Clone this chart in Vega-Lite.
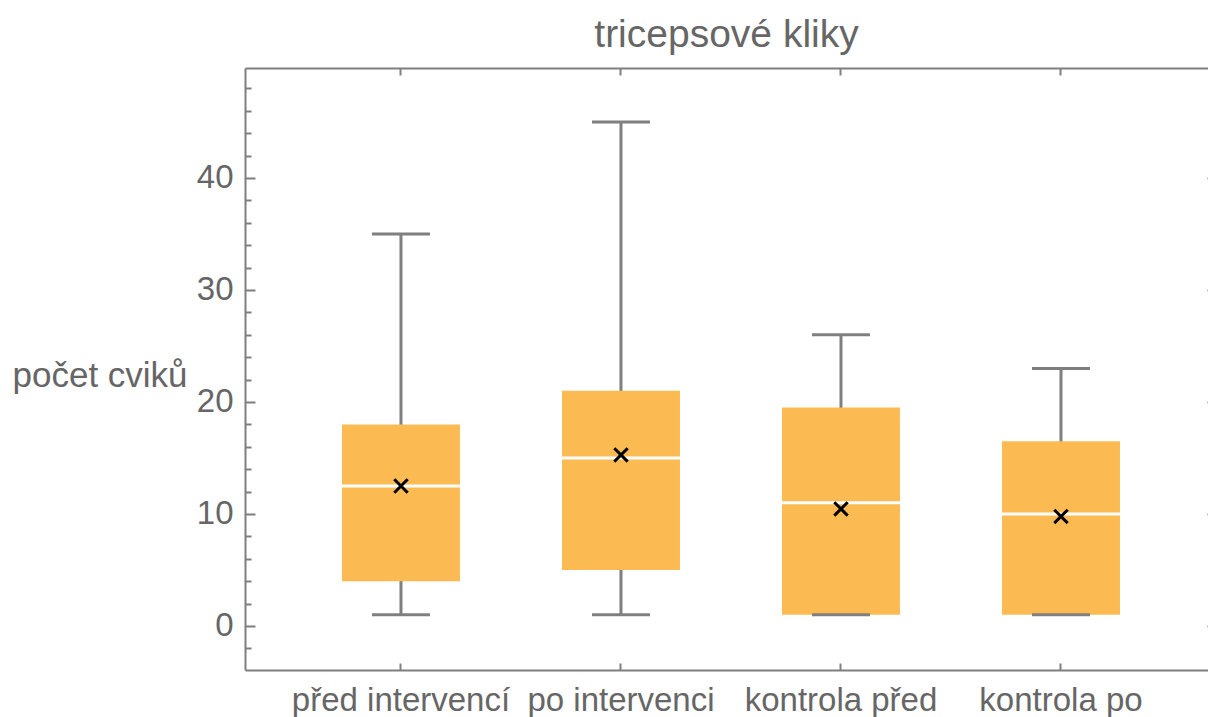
{
  "$schema": "https://vega.github.io/schema/vega-lite/v6.json",
  "autosize": "none",
  "padding": {"left": 245, "top": 68, "right": 0, "bottom": 47},
  "width": 963,
  "height": 602,
  "background": "white",
  "title": {
    "text": "tricepsové kliky",
    "font": "Liberation Sans",
    "fontSize": 39,
    "fontWeight": "normal",
    "color": "#666666",
    "anchor": "middle",
    "offset": 12
  },
  "config": {
    "view": {"stroke": null},
    "font": "Liberation Sans"
  },
  "data": {
    "values": [
      {"skupina": "před intervencí", "min": 1, "q1": 4, "median": 12.5, "q3": 18, "max": 35, "prumer": 12.5},
      {"skupina": "po intervenci", "min": 1, "q1": 5, "median": 15, "q3": 21, "max": 45, "prumer": 15.27},
      {"skupina": "kontrola před", "min": 1, "q1": 1, "median": 11, "q3": 19.5, "max": 26, "prumer": 10.45},
      {"skupina": "kontrola po", "min": 1, "q1": 1, "median": 10, "q3": 16.5, "max": 23, "prumer": 9.78}
    ]
  },
  "resolve": {"axis": {"x": "independent", "y": "independent"}},
  "layer": [
    {
      "mark": {"type": "rule", "color": "#7f7f7f", "strokeWidth": 3, "opacity": 1},
      "encoding": {
        "x": {
          "field": "skupina", "type": "nominal", "sort": null,
          "scale": {"type": "band", "paddingInner": 0, "paddingOuter": 0.1886, "align": 0.554},
          "axis": {
            "orient": "bottom", "title": null, "labelAngle": 0, "labelLimit": 0,
            "domainColor": "#7f7f7f", "domainWidth": 2,
            "tickColor": "#7f7f7f", "tickWidth": 2, "tickSize": -7,
            "labelFont": "Liberation Sans", "labelFontSize": 33, "labelColor": "#666666",
            "labelPadding": 21, "labelBaseline": "top"
          }
        },
        "y": {
          "field": "min", "type": "quantitative",
          "scale": {"domain": [-3.93, 49.82], "nice": false, "zero": false},
          "axis": {
            "orient": "left", "values": [0, 10, 20, 30, 40],
            "title": "počet cviků", "titleAngle": 0, "titleAlign": "left",
            "titleBaseline": "alphabetic", "titleX": -233, "titleY": 318,
            "titleFont": "Liberation Sans", "titleFontSize": 35, "titleFontWeight": "normal", "titleColor": "#666666",
            "domainColor": "#7f7f7f", "domainWidth": 2,
            "tickColor": "#7f7f7f", "tickWidth": 2, "tickSize": -10,
            "labelFont": "Liberation Sans", "labelFontSize": 33, "labelColor": "#666666",
            "labelPadding": 22, "grid": false
          }
        },
        "y2": {"field": "max"}
      }
    },
    {
      "mark": {"type": "tick", "color": "#7f7f7f", "size": 58, "thickness": 3, "opacity": 1},
      "encoding": {
        "x": {
          "field": "skupina", "type": "nominal", "sort": null,
          "axis": {
            "orient": "top", "title": null, "labels": false,
            "domainColor": "#7f7f7f", "domainWidth": 2,
            "tickColor": "#7f7f7f", "tickWidth": 2, "tickSize": -7
          }
        },
        "y": {
          "field": "max", "type": "quantitative",
          "axis": {
            "orient": "left", "title": null, "labels": false, "domain": false, "grid": false,
            "values": [-2, 2, 4, 6, 8, 12, 14, 16, 18, 22, 24, 26, 28, 32, 34, 36, 38, 42, 44, 46, 48],
            "tickColor": "#7f7f7f", "tickWidth": 2, "tickSize": -6
          }
        }
      }
    },
    {
      "mark": {"type": "bar", "color": "#FBBB52", "width": 118, "opacity": 1},
      "encoding": {
        "x": {"field": "skupina", "type": "nominal", "sort": null, "axis": null},
        "y": {
          "field": "q1", "type": "quantitative",
          "axis": {
            "orient": "right", "title": null, "labels": false, "grid": false, "offset": 9,
            "values": [0, 10, 20, 30, 40],
            "domainColor": "#7f7f7f", "domainWidth": 2,
            "tickColor": "#7f7f7f", "tickWidth": 2, "tickSize": -10
          }
        },
        "y2": {"field": "q3"}
      }
    },
    {
      "mark": {"type": "tick", "color": "#7f7f7f", "size": 58, "thickness": 3, "opacity": 1},
      "encoding": {
        "x": {"field": "skupina", "type": "nominal", "sort": null, "axis": null},
        "y": {"field": "min", "type": "quantitative", "axis": null}
      }
    },
    {
      "mark": {"type": "tick", "color": "white", "size": 118, "thickness": 3, "opacity": 1},
      "encoding": {
        "x": {"field": "skupina", "type": "nominal", "sort": null, "axis": null},
        "y": {"field": "median", "type": "quantitative", "axis": null}
      }
    },
    {
      "mark": {"type": "point", "shape": "M-1,-1L1,1M-1,1L1,-1", "filled": false, "stroke": "black", "strokeWidth": 3, "size": 180, "opacity": 1},
      "encoding": {
        "x": {"field": "skupina", "type": "nominal", "sort": null, "axis": null},
        "y": {"field": "prumer", "type": "quantitative", "axis": null}
      }
    }
  ]
}
